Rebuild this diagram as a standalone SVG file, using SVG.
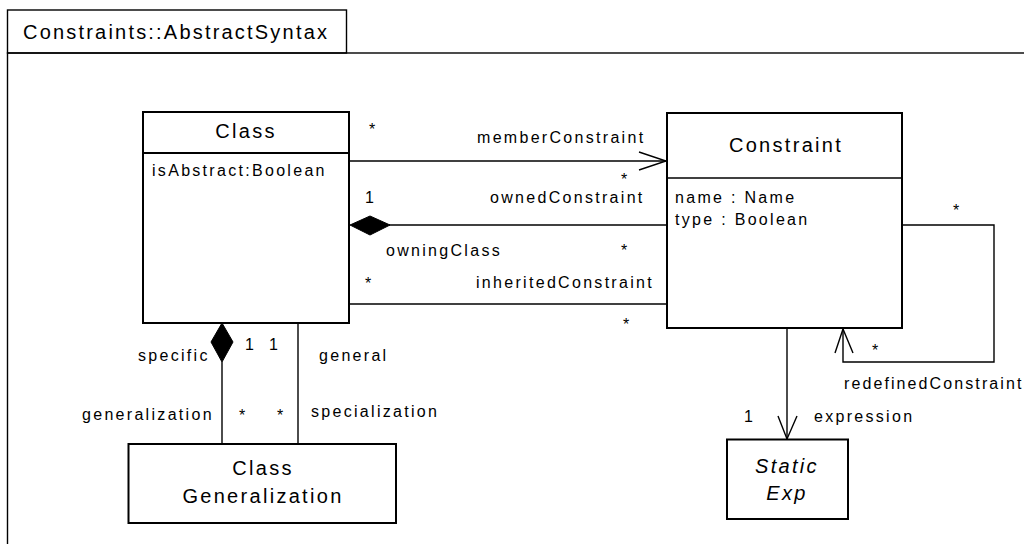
<svg xmlns="http://www.w3.org/2000/svg" width="1024" height="544" viewBox="0 0 1024 544">
<style>
text{font-family:"Liberation Sans",Arial,sans-serif;fill:#000;letter-spacing:2.3px}
.t{font-size:20px}
.s{font-size:16px}
.it{font-style:italic}
.box{fill:#fff;stroke:#000;stroke-width:2}
.ln{fill:none;stroke:#000;stroke-width:1.4}
.frame{fill:none;stroke:#000;stroke-width:1.4}
.dia{fill:#000;stroke:#000;stroke-width:1}
</style>
<rect width="1024" height="544" fill="#fff"/>
<g id="frame">
<rect class="frame" x="7.5" y="53" width="1030" height="500"/>
<rect class="frame" x="7.5" y="10" width="339" height="43"/>
<text class="t" x="23" y="39" style="letter-spacing:2.2px">Constraints::AbstractSyntax</text>
</g>
<g id="connectors">
<!-- memberConstraint -->
<line class="ln" x1="350" y1="161" x2="666" y2="161"/>
<polyline class="ln" points="639,152 666,161 639,170"/>
<text class="s" x="369" y="135">*</text>
<text class="s" x="477" y="143">memberConstraint</text>
<text class="s" x="621" y="185">*</text>
<!-- ownedConstraint -->
<line class="ln" x1="389" y1="225" x2="666" y2="225"/>
<polygon class="dia" points="350,225 370,216 390,225 370,235"/>
<text class="s" x="365" y="203">1</text>
<text class="s" x="490" y="203">ownedConstraint</text>
<text class="s" x="386" y="256">owningClass</text>
<text class="s" x="621" y="256">*</text>
<!-- inheritedConstraint -->
<line class="ln" x1="350" y1="304" x2="666" y2="304"/>
<text class="s" x="365" y="289">*</text>
<text class="s" x="476" y="288">inheritedConstraint</text>
<text class="s" x="623" y="330">*</text>
<!-- generalization / specialization -->
<polygon class="dia" points="222,323 233,342 222,362 211,342"/>
<line class="ln" x1="222" y1="362" x2="222" y2="444"/>
<line class="ln" x1="298" y1="324" x2="298" y2="444"/>
<text class="s" x="245" y="350">1</text>
<text class="s" x="269" y="350">1</text>
<text class="s" x="138" y="361">specific</text>
<text class="s" x="319" y="361">general</text>
<text class="s" x="82" y="420">generalization</text>
<text class="s" x="239" y="421">*</text>
<text class="s" x="277" y="421">*</text>
<text class="s" x="311" y="417">specialization</text>
<!-- expression -->
<line class="ln" x1="787" y1="329" x2="787" y2="439"/>
<polyline class="ln" points="778,416 787,439 797,416"/>
<text class="s" x="744" y="422">1</text>
<text class="s" x="814" y="422">expression</text>
<!-- redefinedConstraint self loop -->
<polyline class="ln" points="903,225 994,225 994,362 843,362 843,329"/>
<polyline class="ln" points="835,353 843,329 853,353"/>
<text class="s" x="953" y="216">*</text>
<text class="s" x="872" y="356">*</text>
<text class="s" x="844" y="389" style="letter-spacing:2.1px">redefinedConstraint</text>
</g>
<g id="Class">
<rect class="box" x="143" y="112" width="206" height="211"/>
<line class="ln" x1="143" y1="153" x2="349" y2="153" style="stroke-width:2"/>
<text class="t" x="246" y="138" text-anchor="middle">Class</text>
<text class="s" x="152" y="176">isAbstract:Boolean</text>
</g>
<g id="Constraint">
<rect class="box" x="667" y="113" width="235" height="215"/>
<line class="ln" x1="667" y1="178" x2="902" y2="178" style="stroke-width:1.6"/>
<text class="t" x="786" y="152" text-anchor="middle">Constraint</text>
<text class="s" x="675" y="203">name : Name</text>
<text class="s" x="675" y="225">type : Boolean</text>
</g>
<g id="ClassGeneralization">
<rect class="box" x="128.5" y="444" width="267.5" height="79"/>
<text class="t" x="263" y="475" text-anchor="middle">Class</text>
<text class="t" x="263" y="503" text-anchor="middle">Generalization</text>
</g>
<g id="StaticExp">
<rect class="box" x="727" y="439.5" width="121" height="79.5"/>
<text class="t it" x="787" y="473" text-anchor="middle">Static</text>
<text class="t it" x="787" y="500" text-anchor="middle">Exp</text>
</g>
</svg>
